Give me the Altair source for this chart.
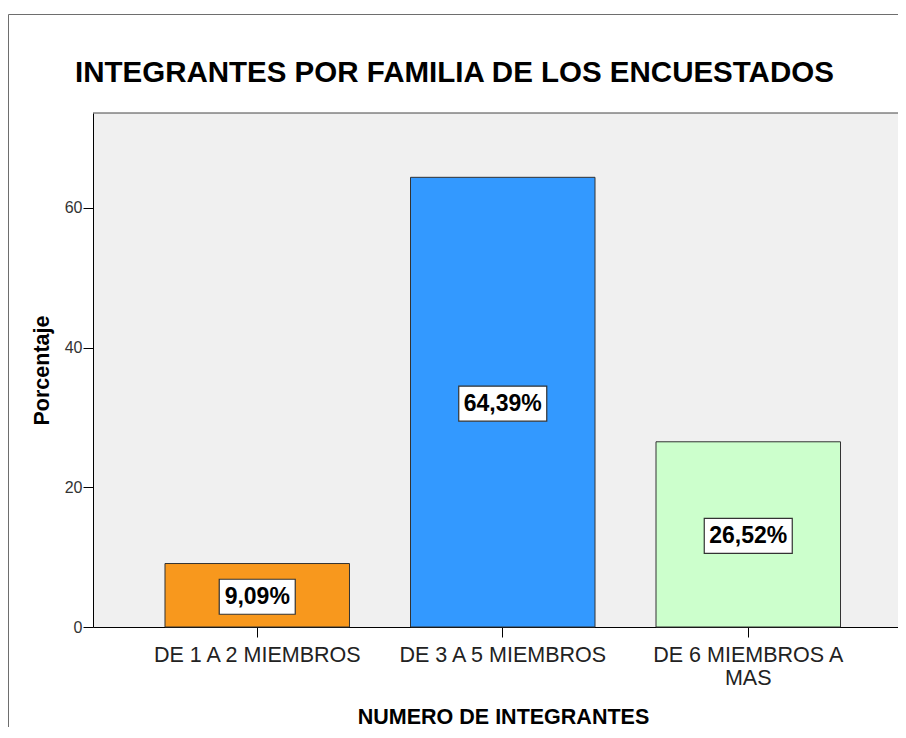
import altair as alt
import pandas as pd

categorias = ["DE 1 A 2 MIEMBROS", "DE 3 A 5 MIEMBROS", "DE 6 MIEMBROS A MAS"]
porcentajes = [9.09, 64.39, 26.52]
etiquetas = ["9,09%", "64,39%", "26,52%"]
colores = ["#F8981D", "#3399FF", "#CCFFCC"]
y_ticks = [0, 20, 40, 60]

df = pd.DataFrame({"cat": categorias, "pct": porcentajes, "label": etiquetas})

FONT = "Liberation Sans"
PLOT_W = 805
PLOT_H = 514

x_def = alt.X(
    "cat:N",
    sort=categorias,
    scale=alt.Scale(paddingInner=0.2485, paddingOuter=0.2637, align=0.556),
    axis=alt.Axis(
        title="NUMERO DE INTEGRANTES",
        labelAngle=0,
        labelFont=FONT,
        labelFontSize=21.5,
        labelColor="#222222",
        labelLimit=0,
        labelPadding=7,
        labelLineHeight=23,
        labelExpr="datum.label == 'DE 6 MIEMBROS A MAS' ? ['DE 6 MIEMBROS A', 'MAS'] : datum.label",
        tickSize=10,
        tickColor="#000000",
        domainColor="#000000",
        titleFont=FONT,
        titleFontSize=21.5,
        titleFontWeight="bold",
        titleColor="#000000",
        titleX=410,
        titleY=96,
        titleAlign="center",
        titleBaseline="alphabetic",
    ),
)

y_axis = alt.Axis(
    title="Porcentaje",
    values=y_ticks,
    grid=False,
    labelFont=FONT,
    labelFontSize=16,
    labelColor="#333333",
    labelPadding=1,
    tickSize=10,
    tickColor="#000000",
    domainColor="#000000",
    titleFont=FONT,
    titleFontSize=21.5,
    titleFontWeight="bold",
    titleColor="#000000",
    titleAngle=-90,
    titleX=-51,
    titleY=257,
    titleAlign="center",
    titleBaseline="middle",
)
y_scale = alt.Scale(domain=[0, 73.6], nice=False)

base = alt.Chart(df)

bars = base.mark_bar(stroke="#333333", strokeWidth=1, opacity=1).encode(
    x=x_def,
    y=alt.Y("pct:Q", scale=y_scale, axis=y_axis),
    color=alt.Color("cat:N", scale=alt.Scale(domain=categorias, range=colores), legend=None),
)

boxes = base.transform_calculate(
    mid="datum.pct / 2",
    w="length(datum.label) * 12 + 16",
).transform_calculate(
    path="'M' + (-datum.w / 2) + ',-17.5H' + (datum.w / 2) + 'V17.5H' + (-datum.w / 2) + 'Z'"
).mark_point(
    filled=True, fill="white", stroke="#333333", strokeWidth=1.2, opacity=1, yOffset=1.5
).encode(
    x=x_def,
    y=alt.Y("mid:Q", scale=y_scale, axis=y_axis),
    shape=alt.Shape("path:N", scale=None),
    size=alt.value(4),
)

texts = base.transform_calculate(mid="datum.pct / 2").mark_text(
    font=FONT, fontSize=23, fontWeight="bold", color="#000000", baseline="middle", dy=1.5
).encode(
    x=x_def,
    y=alt.Y("mid:Q", scale=y_scale, axis=y_axis),
    text="label:N",
)

frame_df = pd.DataFrame({"k": [0]})
frame_left = alt.Chart(frame_df).mark_rule(color="#6E6E6E", strokeWidth=1).encode(
    x=alt.value(-84.5), y=alt.value(-98.5), y2=alt.value(640)
)
frame_top = alt.Chart(frame_df).mark_rule(color="#6E6E6E", strokeWidth=1).encode(
    x=alt.value(-84.5), x2=alt.value(PLOT_W + 10), y=alt.value(-98.5)
)
plot_top = alt.Chart(frame_df).mark_rule(color="#444444", strokeWidth=1).encode(
    x=alt.value(0), x2=alt.value(PLOT_W + 10), y=alt.value(0)
)

chart = alt.layer(bars, boxes, texts, frame_left, frame_top, plot_top).properties(
    width=PLOT_W,
    height=PLOT_H,
    title=alt.TitleParams(
        text="INTEGRANTES POR FAMILIA DE LOS ENCUESTADOS",
        font=FONT,
        fontSize=29.5,
        fontWeight="bold",
        color="#000000",
        anchor="start",
        frame="group",
        dx=-18,
        offset=0,
        dy=97,
        baseline="alphabetic",
    ),
    autosize=alt.AutoSizeParams(type="none"),
    padding={"left": 85, "top": 105, "right": 0, "bottom": 100},
    background="white",
).configure_view(
    fill="#F0F0F0", stroke=None
)

chart.save("out.html", embed_options={"renderer": "svg", "actions": False})
